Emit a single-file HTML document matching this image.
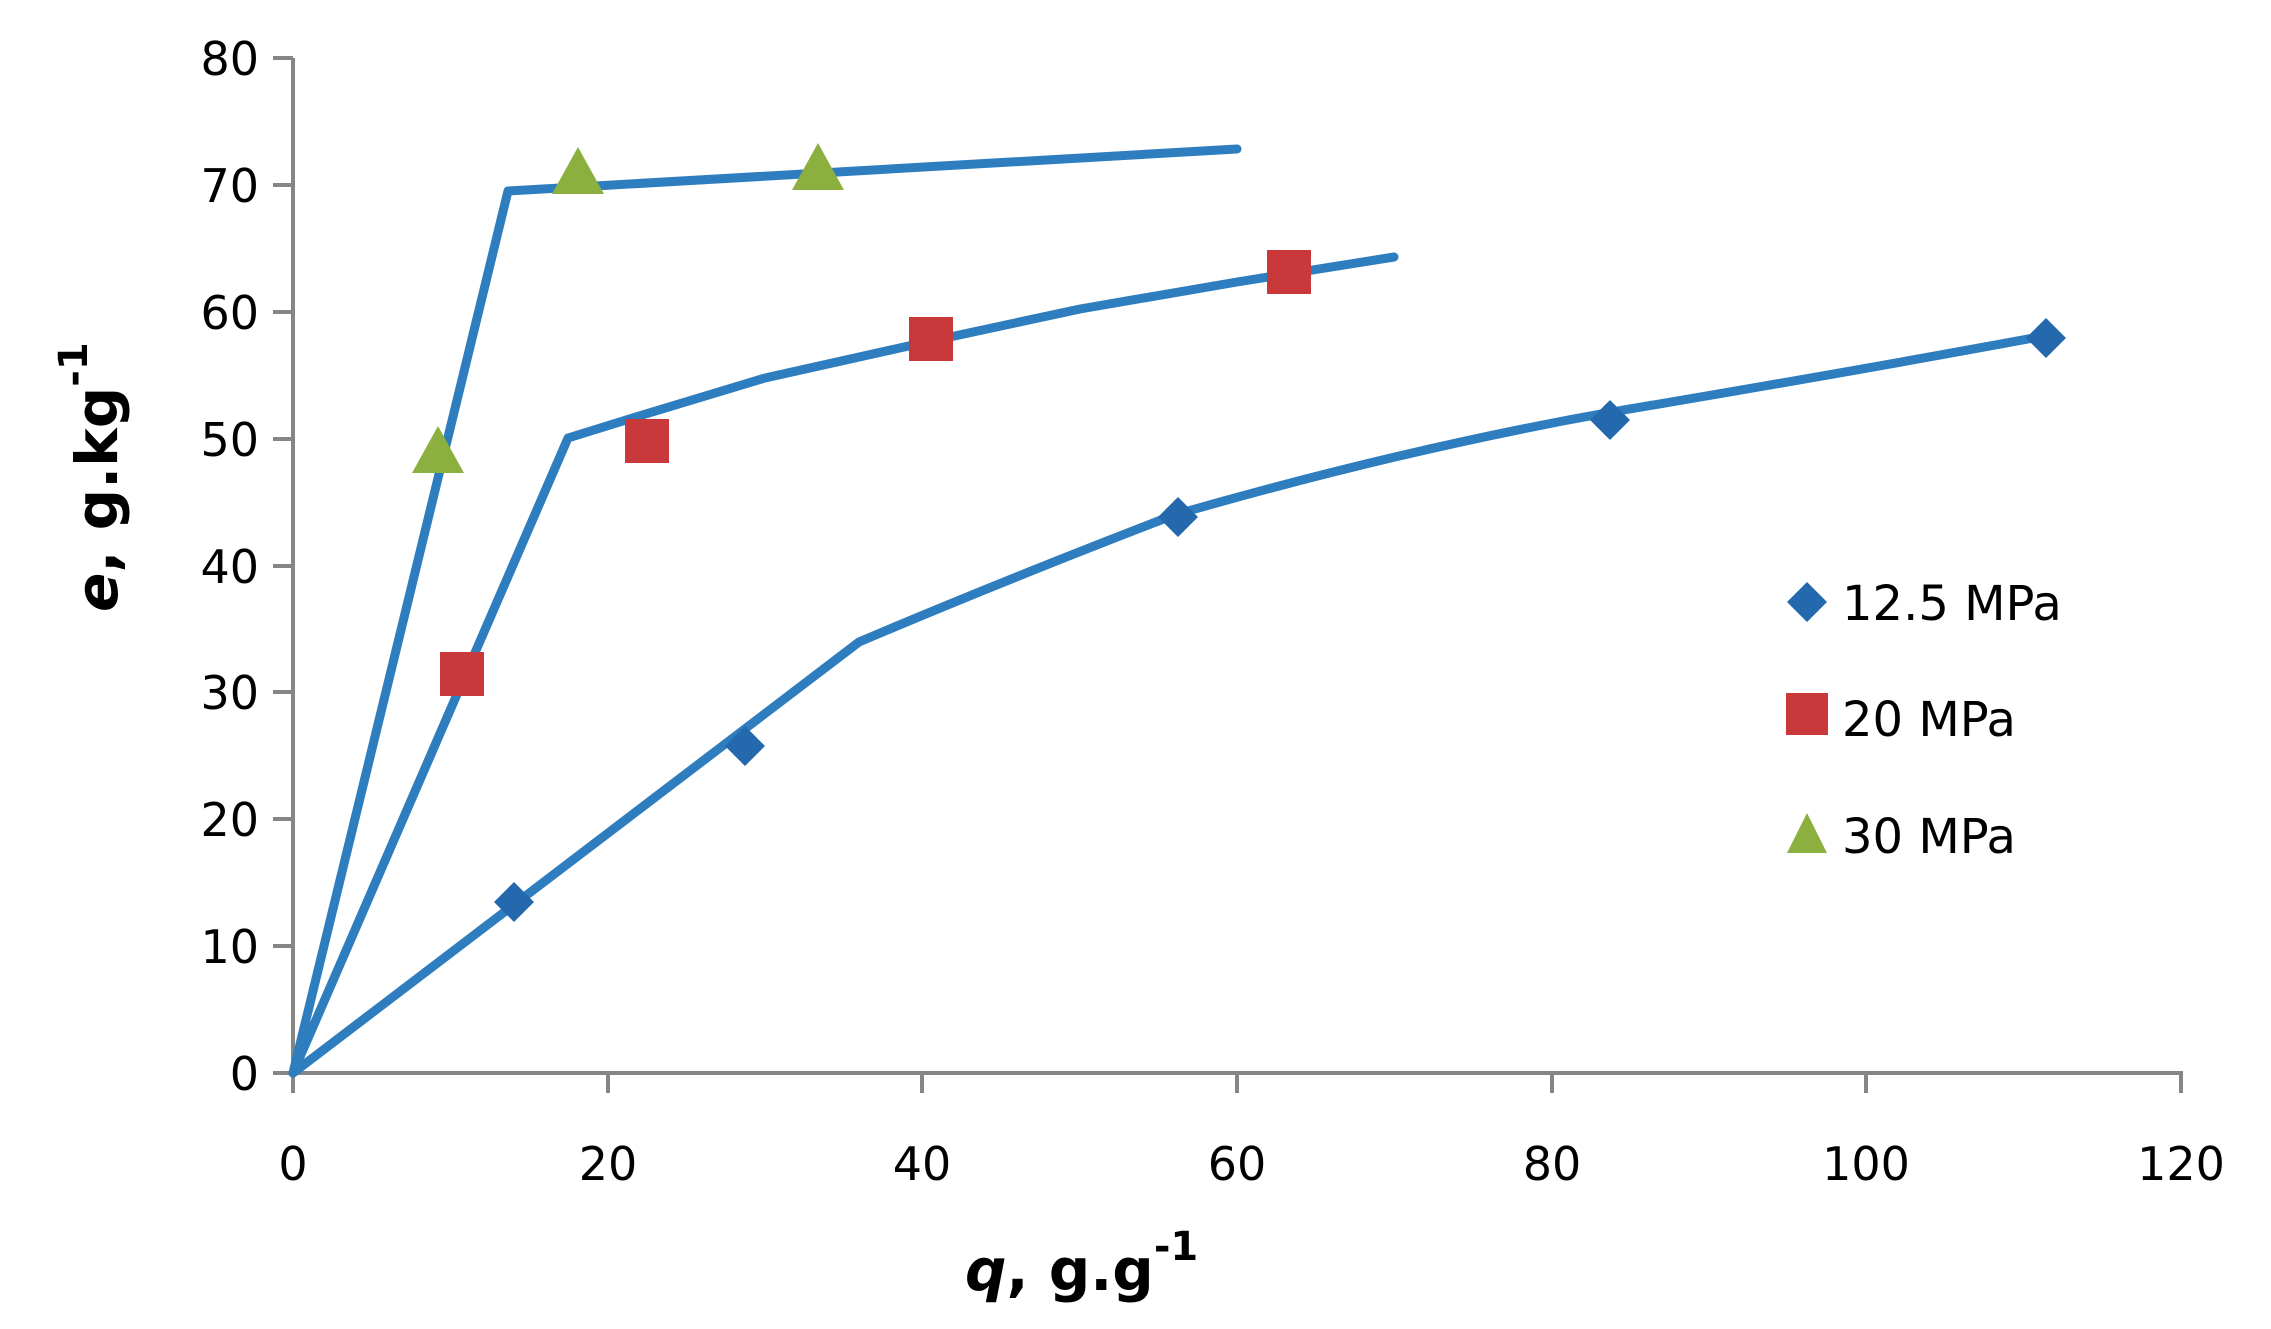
<!DOCTYPE html>
<html><head><meta charset="utf-8"><style>
html,body{margin:0;padding:0;background:#fff}
svg{display:block}
text{font-family:"DejaVu Sans","Liberation Sans",sans-serif}
</style></head><body>
<svg width="2271" height="1329" viewBox="0 0 2271 1329" xmlns="http://www.w3.org/2000/svg">
<rect width="2271" height="1329" fill="#fff"/>
<g stroke="#868686" stroke-width="4" fill="none">
<line x1="293" y1="58" x2="293" y2="1073"/>
<line x1="291" y1="1073" x2="2183" y2="1073"/>
<line x1="273" y1="58" x2="293" y2="58"/>
<line x1="273" y1="185" x2="293" y2="185"/>
<line x1="273" y1="312" x2="293" y2="312"/>
<line x1="273" y1="439" x2="293" y2="439"/>
<line x1="273" y1="566" x2="293" y2="566"/>
<line x1="273" y1="692" x2="293" y2="692"/>
<line x1="273" y1="819" x2="293" y2="819"/>
<line x1="273" y1="946" x2="293" y2="946"/>
<line x1="273" y1="1073" x2="293" y2="1073"/>
<line x1="293" y1="1073" x2="293" y2="1093"/>
<line x1="608" y1="1073" x2="608" y2="1093"/>
<line x1="922" y1="1073" x2="922" y2="1093"/>
<line x1="1237" y1="1073" x2="1237" y2="1093"/>
<line x1="1552" y1="1073" x2="1552" y2="1093"/>
<line x1="1866" y1="1073" x2="1866" y2="1093"/>
<line x1="2181" y1="1073" x2="2181" y2="1093"/>
</g>
<g font-size="46" fill="#000" text-anchor="end">
<text x="259" y="75">80</text>
<text x="259" y="202">70</text>
<text x="259" y="329">60</text>
<text x="259" y="456">50</text>
<text x="259" y="583">40</text>
<text x="259" y="709">30</text>
<text x="259" y="836">20</text>
<text x="259" y="963">10</text>
<text x="259" y="1090">0</text>
</g>
<g font-size="46" fill="#000" text-anchor="middle">
<text x="293" y="1180">0</text>
<text x="608" y="1180">20</text>
<text x="922" y="1180">40</text>
<text x="1237" y="1180">60</text>
<text x="1552" y="1180">80</text>
<text x="1866" y="1180">100</text>
<text x="2181" y="1180">120</text>
</g>
<text x="965" y="1290" font-size="58" font-weight="bold"><tspan font-style="italic">q</tspan>, g.g<tspan font-size="40" dy="-30">-1</tspan></text>
<text transform="translate(117,612) rotate(-90)" font-size="58" font-weight="bold"><tspan font-style="italic">e</tspan>, g.kg<tspan font-size="40" dy="-30">-1</tspan></text>
<g stroke="#2E7DBE" stroke-width="9" fill="none" stroke-linejoin="round" stroke-linecap="round">
<polyline points="293,1073 508,191 1237,149"/>
<polyline points="293,1073 568,438 639,416 765,378 922,343 1080,309 1237,282 1394,257"/>
<path d="M293,1073 L859,642 Q1000,582 1174,515 Q1400,450 1606,413 Q1850,372 2039,337"/>
</g>
<g fill="#8CB040">
<polygon points="438,426 464,473 412,473"/>
<polygon points="578,147 604,194 552,194"/>
<polygon points="818,143 844,190 792,190"/>
<polygon points="1807,813 1827,853 1787,853"/>
</g>
<g fill="#C9383A">
<rect x="440" y="652" width="44" height="44"/>
<rect x="625" y="419" width="44" height="44"/>
<rect x="909" y="317" width="44" height="44"/>
<rect x="1267" y="250" width="44" height="44"/>
<rect x="1786" y="693" width="42" height="42"/>
</g>
<g fill="#2468AE">
<polygon points="514,882 534,902 514,922 494,902"/>
<polygon points="745,726 765,746 745,766 725,746"/>
<polygon points="1178,497 1198,517 1178,537 1158,517"/>
<polygon points="1610,400 1630,420 1610,440 1590,420"/>
<polygon points="2046,318 2066,338 2046,358 2026,338"/>
<polygon points="1807,582 1827,602 1807,622 1787,602"/>
</g>
<g font-size="48" fill="#000">
<text x="1842" y="620">12.5 MPa</text>
<text x="1842" y="736">20 MPa</text>
<text x="1842" y="853">30 MPa</text>
</g>
</svg>
</body></html>
